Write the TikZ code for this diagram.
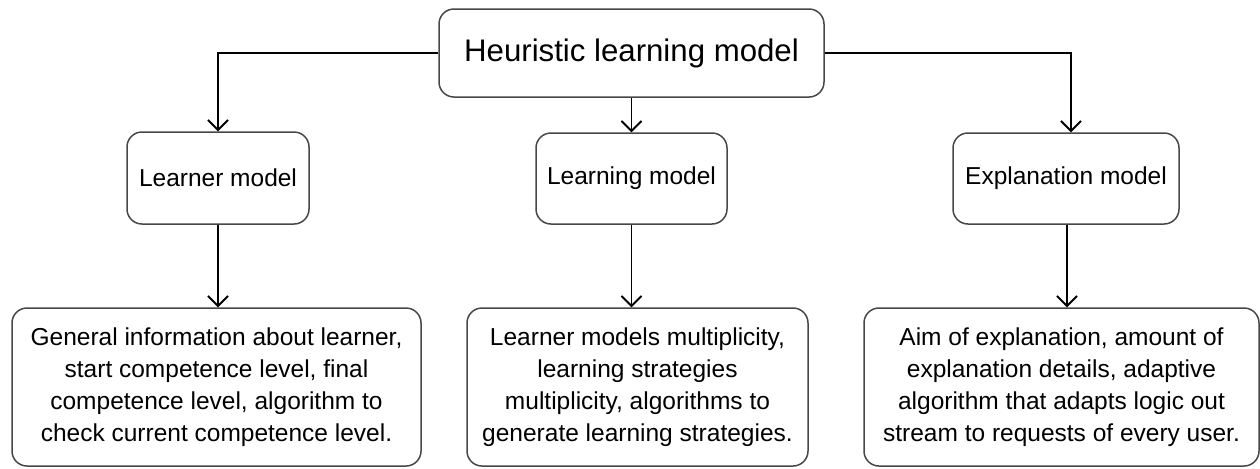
\documentclass[tikz,border=0pt]{standalone}
\usepackage{fontspec}
\setmainfont{Liberation Sans}
\usetikzlibrary{arrows.meta}
\begin{document}
\begin{tikzpicture}[x=0.5pt,y=-0.5pt,
  box/.style={draw=black!72, line width=0.75pt, rounded corners=7.5pt,
    fill=white, align=center, inner sep=0pt, text=black,
    font=\fontsize{12.25}{16}\selectfont},
  titlebox/.style={box, font=\fontsize{15.6}{19}\selectfont},
  link/.style={line width=0.9pt, black},
  arrowlink/.style={link, -{Straight Barb[length=5pt,width=10pt,line width=0.9pt]}}
]
\useasboundingbox (0,0) rectangle (1260,468);

% top level
\node[titlebox, minimum width=192.5pt, minimum height=44pt] (hlm) at (631.5,53) {Heuristic learning model};

% second level
\node[box, minimum width=91pt, minimum height=46pt] (learner) at (218,178) {Learner model};
\node[box, minimum width=95.5pt, minimum height=45.5pt] (learning) at (631.5,178.5) {Learning model};
\node[box, minimum width=113pt, minimum height=45.5pt] (expl) at (1066,178.5) {Explanation model};

% third level
\node[box, minimum width=204.5pt, minimum height=79pt] (learnerd) at (216.5,387)
  {General information about learner,\\start competence level, final\\competence level, algorithm to\\check current competence level.};
\node[box, minimum width=170.5pt, minimum height=79pt] (learningd) at (637.5,387)
  {Learner models multiplicity,\\learning strategies\\multiplicity, algorithms to\\generate learning strategies.};
\node[box, minimum width=197.5pt, minimum height=79pt] (expld) at (1061.5,387)
  {Aim of explanation, amount of\\explanation details, adaptive\\algorithm that adapts logic out\\stream to requests of every user.};

% connectors
\draw[arrowlink] (hlm.west) -| (learner.north);
\draw[arrowlink] (hlm.south) -- (learning.north);
\draw[arrowlink] (hlm.east) -| ([xshift=2.5pt]expl.north);

\draw[arrowlink] (learner.south) -- (learner.south |- learnerd.north);
\draw[arrowlink] (learning.south) -- (learning.south |- learningd.north);
\draw[arrowlink] ([xshift=0.5pt]expl.south) -- ([xshift=0.5pt]expl.south |- expld.north);
\end{tikzpicture}
\end{document}
